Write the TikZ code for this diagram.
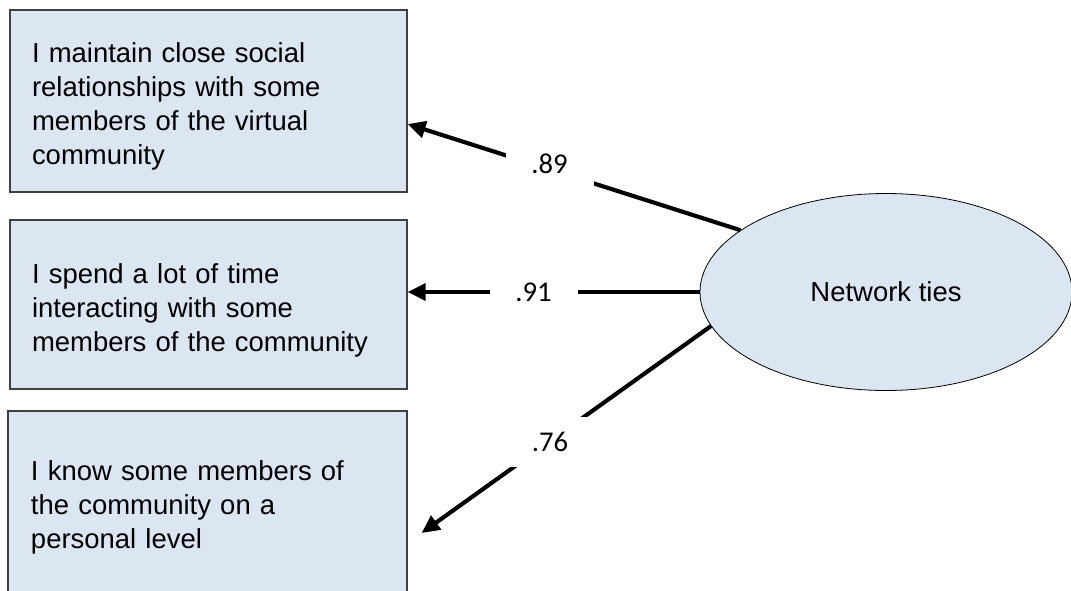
\documentclass[tikz,border=0pt]{standalone}
\usepackage{fontspec}
\setmainfont{Liberation Sans}
\newfontfamily\numfont{Carlito}
\usetikzlibrary{arrows.meta,shapes.geometric}
\definecolor{itemfill}{RGB}{220,230,242}
% raises the first line so the text block sits at the right height in its box
\newcommand\firstline{\rule{0pt}{23.25pt}}

\begin{document}
\begin{tikzpicture}[x=0.75pt,y=-0.75pt,
  itembox/.style={draw=black!75, line width=0.9pt, fill=itemfill,
    minimum width=297.75pt, text width=264.75pt, align=left, inner sep=0pt,
    font=\fontsize{20.6}{25.5}\selectfont},
  factor/.style={ellipse, draw=black, line width=0.6pt, fill=itemfill,
    minimum width=279pt, minimum height=147.75pt, inner sep=0pt,
    font=\fontsize{20.6}{25.5}\selectfont},
  loading/.style={-{Triangle[length=13.5pt,width=12.5pt]}, line width=3.1pt},
  coef/.style={fill=white, minimum width=66pt, minimum height=37.5pt,
    inner sep=0pt, font=\numfont\fontsize{21.5}{25}\selectfont}]

\clip (0,0) rectangle (1071,590);
\fill[white] (0,0) rectangle (1071,590);

% observed indicators
\node[itembox, minimum height=136.5pt] (b1) at (208.5,101)
  {\firstline I maintain close social\\relationships with some\\members of the virtual\\community};
\node[itembox, minimum height=126.75pt] (b2) at (208.5,304.5)
  {\firstline I spend a lot of time\\interacting with some\\members of the community};
\node[itembox, minimum width=299.25pt, minimum height=135.75pt] (b3) at (207.5,501.5)
  {\firstline I know some members of\\the community on a\\personal level};

% latent factor
\node[factor] (nt) at (886,292) {Network ties};

% loadings
\draw[loading] (nt.157) -- ([yshift=-17.25pt]b1.east);
\draw[loading] (nt.west) -- (nt.west -| b2.east);
\draw[loading] (nt.191) -- ([xshift=10.5pt,yshift=-23.6pt]b3.east);

\node[coef] (c1) at (549.5,164) {.89};
\node[coef] (c2) at (533.5,292) {.91};
\node[coef] (c3) at (550,442) {.76};
\end{tikzpicture}
\end{document}
